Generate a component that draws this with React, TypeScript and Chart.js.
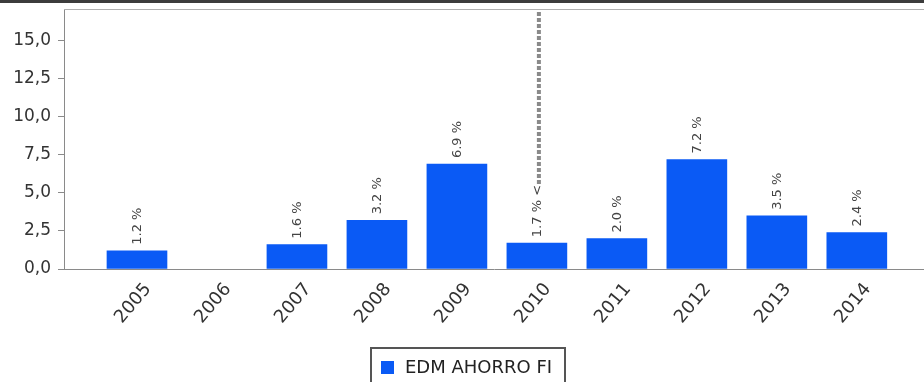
import React, { useEffect, useRef } from "react";
import { Chart, registerables } from "chart.js";

Chart.register(...registerables);

const years = [2005, 2006, 2007, 2008, 2009, 2010, 2011, 2012, 2013, 2014];
const returns: (number | null)[] = [1.2, null, 1.6, 3.2, 6.9, 1.7, 2.0, 7.2, 3.5, 2.4];
const seriesName = "EDM AHORRO FI";
const markerYear = 2010;
const yMax = 17.1;
const yStep = 2.5;

const BLUE = "#0a5af5";
const FONT = "'DejaVu Sans', Verdana, sans-serif";

export default function App() {
  const ref = useRef<HTMLCanvasElement | null>(null);

  useEffect(() => {
    if (!ref.current) return;
    const decorPlugin = {
      id: "decor",
      afterDatasetsDraw(chart: any) {
        const ctx = chart.ctx;
        const meta = chart.getDatasetMeta(0);
        const area = chart.chartArea;
        ctx.save();
        ctx.font = `13px ${FONT}`;
        ctx.fillStyle = "#444";
        ctx.textAlign = "left";
        ctx.textBaseline = "middle";
        meta.data.forEach((el: any, i: number) => {
          const v = returns[i];
          if (v === null || v === undefined) return;
          const isMarker = years[i] === markerYear;
          const txt = v.toFixed(1) + " %" + (isMarker ? " <" : "");
          const x = el.x + 1;
          const y = el.y - 6;
          ctx.save();
          ctx.translate(x, y);
          ctx.rotate(-Math.PI / 2);
          ctx.fillText(txt, 0, 0);
          ctx.restore();
          if (isMarker) {
            const w = ctx.measureText(txt).width;
            ctx.save();
            ctx.strokeStyle = "#8a8a8a";
            ctx.lineWidth = 4;
            ctx.setLineDash([4, 2]);
            ctx.beginPath();
            ctx.moveTo(x + 1, y - w - 1);
            ctx.lineTo(x + 1, area.top);
            ctx.stroke();
            ctx.restore();
          }
        });
        ctx.restore();
      },
      afterDraw(chart: any) {
        const ctx = chart.ctx;
        const area = chart.chartArea;
        ctx.save();
        // top dark border
        ctx.fillStyle = "#3c3c3c";
        ctx.fillRect(0, 0, chart.width, 3);
        // plot top line
        ctx.strokeStyle = "#b0b0b0";
        ctx.lineWidth = 1;
        ctx.beginPath();
        ctx.moveTo(area.left, area.top + 0.5);
        ctx.lineTo(area.right, area.top + 0.5);
        ctx.stroke();
        // legend
        const cx = chart.width / 2 + 6;
        const bw = 194;
        const bx = cx - bw / 2;
        const by = 348;
        ctx.strokeStyle = "#555";
        ctx.lineWidth = 2;
        ctx.strokeRect(bx, by, bw, 44);
        ctx.fillStyle = BLUE;
        ctx.fillRect(bx + 10, by + 13, 13, 13);
        ctx.fillStyle = "#222";
        ctx.font = `18px ${FONT}`;
        ctx.textAlign = "left";
        ctx.textBaseline = "middle";
        ctx.fillText(seriesName, bx + 34, by + 20);
        ctx.restore();
      },
    };

    const chart = new Chart(ref.current, {
      type: "bar",
      data: {
        datasets: [
          {
            label: seriesName,
            data: years.map((y, i) => ({ x: y, y: returns[i] })) as any,
            backgroundColor: BLUE,
            borderWidth: 0,
            barThickness: 60,
          },
        ],
      },
      options: {
        responsive: false,
        animation: false,
        layout: { padding: { top: 9, left: 0, right: 0, bottom: 0 } },
        plugins: {
          legend: { display: false },
          tooltip: { enabled: false },
        },
        scales: {
          x: {
            type: "linear",
            min: 2004.0875,
            max: 2014.84,
            offset: false,
            grid: { display: false, drawTicks: false },
            border: { display: true, color: "#8a8a8a", width: 1 },
            ticks: {
              stepSize: 1,
              includeBounds: false,
              autoSkip: false,
              minRotation: 50,
              maxRotation: 50,
              padding: 10,
              labelOffset: 11,
              color: "#333",
              font: { family: FONT, size: 18 },
              callback: (v: any) => String(v),
            },
            afterFit: (s: any) => {
              s.height = 113;
              s.paddingLeft = 0;
              s.paddingRight = 0;
            },
          },
          y: {
            min: 0,
            max: yMax,
            grid: {
              display: true,
              drawOnChartArea: false,
              drawTicks: true,
              tickLength: 6,
              color: "#8a8a8a",
            },
            border: { display: true, color: "#8a8a8a", width: 1 },
            ticks: {
              stepSize: yStep,
              includeBounds: false,
              padding: 7,
              color: "#333",
              font: { family: FONT, size: 17 },
              callback: (v: any) => Number(v).toFixed(1).replace(".", ","),
            },
            afterFit: (s: any) => {
              s.width = 64;
              s.paddingTop = 0;
              s.paddingBottom = 0;
            },
          },
        },
      } as any,
      plugins: [decorPlugin],
    });
    return () => chart.destroy();
  }, []);

  return (
    <div style={{ position: "fixed", left: 0, top: 0, width: 924, height: 382, background: "#fff" }}>
      <canvas ref={ref} width={924} height={382} />
    </div>
  );
}
